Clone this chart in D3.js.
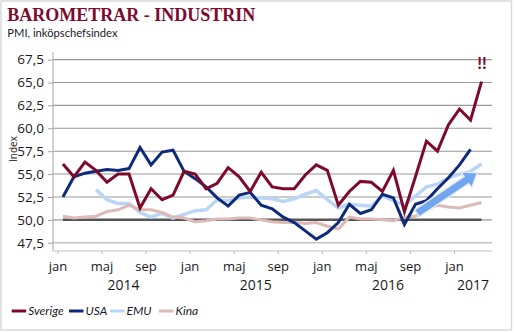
<!DOCTYPE html>
<html><head><meta charset="utf-8">
<script src="https://cdn.jsdelivr.net/npm/d3@7"></script>
<style>html,body{margin:0;padding:0;background:#fff;}svg{display:block;}</style>
</head><body>
<svg id="c" width="514" height="333"></svg>
<script>
// ---- data ----
const sverige = [56.1,54.7,56.3,55.4,54.1,55.0,55.0,51.3,53.4,52.2,52.7,55.3,55.0,53.4,54.0,55.7,54.7,53.1,55.2,53.6,53.4,53.4,54.9,56.0,55.4,51.6,53.1,54.2,54.1,53.1,55.4,50.9,54.7,58.6,57.5,60.4,62.1,60.9,65.1];
const usa = [52.5,54.7,55.1,55.3,55.5,55.4,55.6,57.9,56.0,57.4,57.6,55.3,54.5,53.6,52.4,51.5,52.7,53.0,51.6,51.2,50.3,49.7,48.8,47.9,48.6,49.7,51.7,50.7,51.1,52.8,52.4,49.5,51.7,52.1,53.4,54.6,56.0,57.7];
const emu = [null,null,null,53.3,52.2,51.8,51.8,50.8,50.3,50.7,50.2,50.6,51.0,51.1,52.2,52.1,52.4,52.5,52.4,52.3,52.0,52.3,52.8,53.2,52.2,51.3,51.7,51.6,51.5,52.6,52.1,51.6,52.6,53.6,53.9,54.6,55.0,55.3,56.1];
const kina = [50.4,50.2,50.3,50.4,50.9,51.1,51.6,51.1,51.1,50.8,50.3,50.2,49.8,49.9,50.1,50.1,50.2,50.2,50.0,49.8,49.7,49.75,49.6,49.7,49.3,49.0,50.3,50.1,50.1,50.0,49.9,50.3,50.4,51.2,51.6,51.4,51.3,51.6,51.9];
const baseline = sverige.map(() => 50);
const monthTickLabels = ["jan","maj","sep","jan","maj","sep","jan","maj","sep","jan"];
const monthTickIndex = [0,4,8,12,16,20,24,28,32,36];
const yearLabels = ["2014","2015","2016","2017"];
const yTicks = [47.5,50,52.5,55,57.5,60,62.5,65,67.5];
const seriesNames = ["Sverige","USA","EMU","Kina"];
const seriesColors = ["#7D0A2C","#0E2B7A","#BBD5F6","#DDB9B7"];
const arrowFrom = [32.63, 50.72], arrowTo = [38.11, 55.15];

// ---- layout ----
const svg = d3.select("#c");
const xDomain = [-0.4, 39.45];
const x = d3.scaleLinear().domain(xDomain).range([53, 492]);
const y = d3.scaleLinear().domain([46.6, 68.33]).range([251, 52]);
const fmt = v => d3.format(".1f")(v).replace(".", ",");

svg.append("rect").attr("x",1).attr("y",1).attr("width",510.5).attr("height",329)
  .attr("fill","#fff").attr("stroke","#d9d9d9").attr("stroke-width",1.5);

// title
svg.append("text").attr("x",7.3).attr("y",21).text("BAROMETRAR - INDUSTRIN")
  .attr("font-family","Liberation Serif, serif").attr("font-weight","bold")
  .attr("font-size",18).attr("fill","#7D0A2C");
svg.append("text").attr("x",7.3).attr("y",37).text("PMI, inköpschefsindex")
  .attr("font-family","Lato, sans-serif").attr("font-size",11.2).attr("fill","#1a1a2a");

// gridlines
svg.append("g").selectAll("line").data(yTicks).join("line")
  .attr("x1",53).attr("x2",492).attr("y1",d=>y(d)).attr("y2",d=>y(d))
  .attr("stroke",d=>d===47.5?"#c4c4c4":"#999").attr("stroke-width",d=>d===47.5?1.5:1.1);

// y axis
const yAxis = d3.axisLeft(y).tickValues(yTicks).tickFormat(fmt).tickSize(5).tickPadding(4);
const gy = svg.append("g").attr("transform","translate(53,0)").call(yAxis);
gy.select(".domain").attr("stroke","#a6a6a6").attr("d","M0,52V251");
gy.selectAll(".tick line").attr("stroke","#a6a6a6");
gy.selectAll("text").attr("font-family","Open Sans, sans-serif").attr("font-size",13.5).attr("fill","#1a1a1a");
svg.append("text").attr("transform","translate(16.5,149) rotate(-90)").attr("text-anchor","middle")
  .attr("font-family","Open Sans, sans-serif").attr("font-size",10).attr("fill","#1a1a1a").text("Index");

// x axis
const xAxis = d3.axisBottom(x).tickValues(monthTickIndex).tickSize(3)
  .tickFormat((d,i)=>monthTickLabels[i]).tickPadding(8);
const gx = svg.append("g").attr("transform","translate(0,251)").call(xAxis);
gx.select(".domain").attr("stroke","#d4d4d4").attr("stroke-width",1.5).attr("d","M53,0H492");
gx.selectAll(".tick line").attr("stroke","#bbb");
gx.selectAll("text").attr("font-family","Open Sans, sans-serif").attr("font-size",13).attr("fill","#1a1a1a");
svg.append("g").selectAll("text").data(yearLabels).join("text")
  .attr("x",(d,i)=>{const a=Math.max(i*12,xDomain[0]), b=Math.min(i*12+12,xDomain[1]); return x((a+b)/2);})
  .attr("y",290).attr("text-anchor","middle").text(d=>d)
  .attr("font-family","Open Sans, sans-serif").attr("font-size",14).attr("fill","#1a1a1a");

// lines
const line = d3.line().defined(d=>d!=null).x((d,i)=>x(i+0.5)).y(d=>y(d));
svg.append("path").datum(baseline).attr("d",line).attr("fill","none").attr("stroke","#555").attr("stroke-width",2.5);
const drawOrder = [2,3,1,0];
const allSeries = [sverige, usa, emu, kina];
const widths = [3,3,3.5,3];
drawOrder.forEach(k=>{
  svg.append("path").datum(allSeries[k]).attr("d",line).attr("fill","none")
    .attr("stroke",seriesColors[k]).attr("stroke-width",widths[k]).attr("stroke-linejoin","miter");
});

// arrow annotation
const ax0 = x(arrowFrom[0]), ay0 = y(arrowFrom[1]), ax1 = x(arrowTo[0]), ay1 = y(arrowTo[1]);
const len = Math.hypot(ax1-ax0, ay1-ay0), ang = Math.atan2(ay1-ay0, ax1-ax0)*180/Math.PI;
const hl = 13, sw = 4.2, hw = 9.5;
svg.append("path").attr("transform",`translate(${ax0},${ay0}) rotate(${ang})`)
  .attr("d",`M0,${-sw}L${len-hl},${-sw}L${len-hl},${-hw}L${len},0L${len-hl},${hw}L${len-hl},${sw}L0,${sw}Z`)
  .attr("fill","#6EA6EF").attr("stroke","#e4e8ee").attr("stroke-width",1.5);

// !! annotation
svg.append("text").attr("x",x(38.5)+0.5).attr("y",69).attr("text-anchor","middle")
  .attr("font-family","Lato, sans-serif").attr("font-weight","bold").attr("font-size",17).attr("fill","#7D0A2C").text("!!");

// legend
const legendX = [11.7, 69, 110, 159];
const lg = svg.append("g").selectAll("g").data(seriesNames).join("g")
  .attr("transform",(d,i)=>`translate(${legendX[i]},311)`);
lg.append("line").attr("x1",0).attr("x2",14.5).attr("stroke",(d,i)=>seriesColors[i]).attr("stroke-width",3);
lg.append("text").attr("x",16.5).attr("y",4).text(d=>d)
  .attr("font-family","Lato, sans-serif").attr("font-style","italic").attr("font-size",12).attr("fill","#1a1a2a");
</script>
</body></html>
